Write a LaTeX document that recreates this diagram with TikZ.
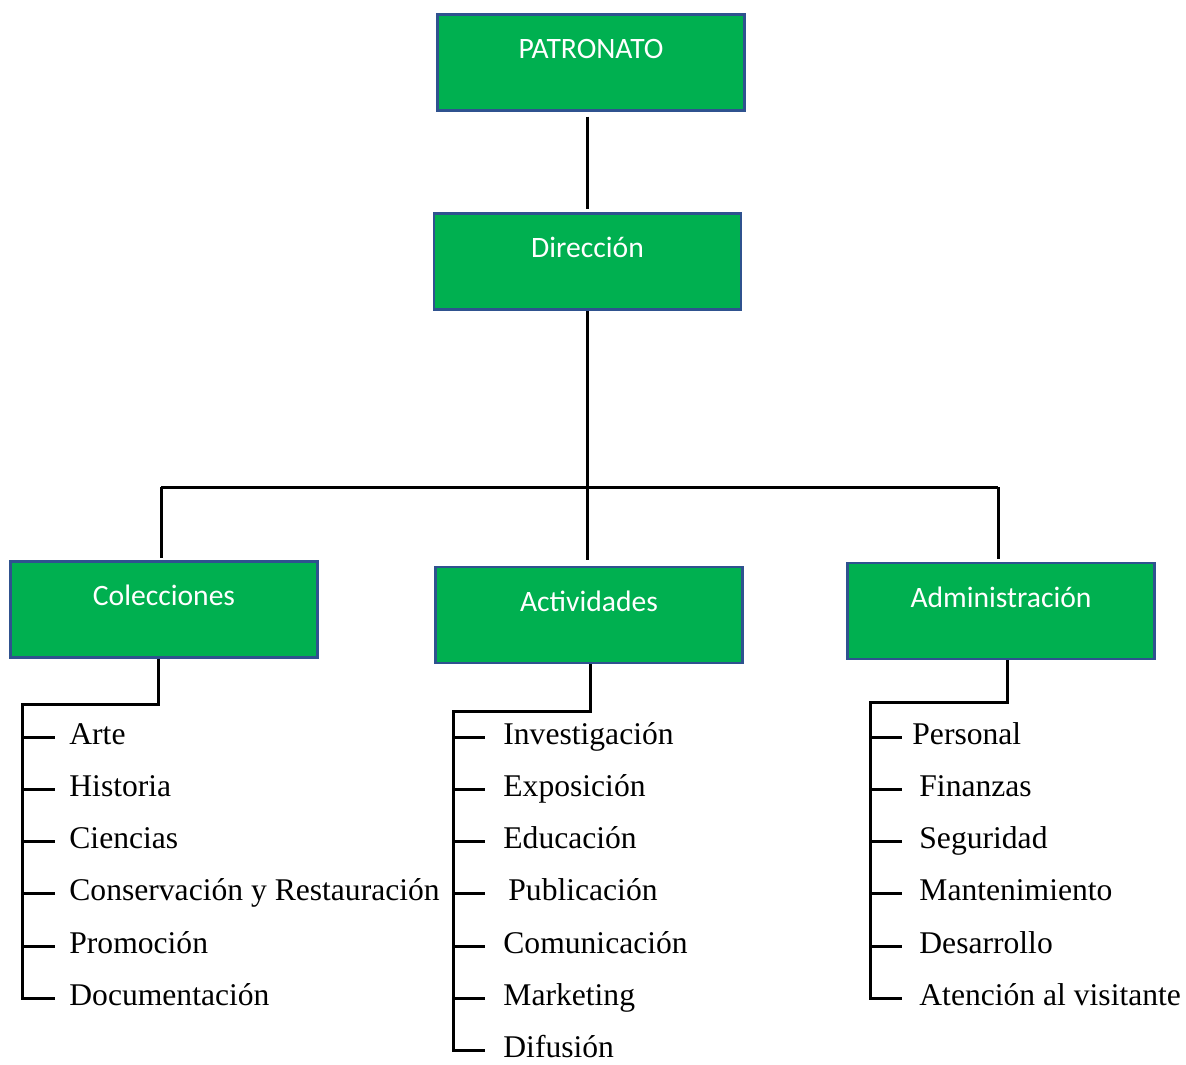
\documentclass[tikz,border=0pt]{standalone}
\usepackage{fontspec}
\setmainfont{Liberation Serif}
\newfontfamily\unitfont{Carlito}
\usetikzlibrary{positioning}
\definecolor{unitgreen}{RGB}{0,176,80}
\definecolor{unitblue}{RGB}{47,82,143}

\begin{document}
\begin{tikzpicture}[x=0.5pt, y=-0.5pt,
  unit/.style={draw=unitblue, line width=1.2pt, fill=unitgreen, text=white,
    minimum width=153.5pt, minimum height=48pt, inner sep=0pt,
    font=\unitfont\fontsize{14.8}{17}\selectfont, text height=0.75em, text depth=1.13em},
  item/.style={anchor=west, inner ysep=0pt,
    font=\fontsize{15.8}{19}\selectfont, text height=0.9em, text depth=0.2em},
  link/.style={line width=1.5pt}]
  \useasboundingbox (0,0) rectangle (1186,1064);

  % units
  \node[unit] (pat) at (591,62.5) {PATRONATO};
  \node[unit] (dir) at (587.5,261.5) {Dirección};
  \node[unit] (col) at (164,609.5) {Colecciones};
  \node[unit] (act) at (589,615) {Actividades};
  \node[unit] (adm) at (1001,611) {Administración};

  \coordinate (busL) at (161,487);
  \coordinate (busR) at (998,487);

  \draw[link, shorten <=2.5pt, shorten >=1.5pt] (pat.south -| dir.north) -- (dir.north);
  \draw[link, shorten >=3pt] (dir.south) -- (dir.south |- act.north);
  \draw[link] (busL) -- (busR);
  \draw[link, shorten >=1pt] (busL) -- (busL |- col.north);
  \draw[link, shorten >=1.5pt] (busR) -- (busR |- adm.north);

  % Colecciones
  \coordinate (colK) at (158,704);
  \coordinate (colS) at (22,704);
  \foreach \t [count=\i] in {Arte,Historia,Ciencias,Conservación y Restauración,Promoción,Documentación}
    \node[item, inner xsep=7pt] (c\i) at (55,{737+52.3*(\i-1)}) {\t};
  \draw[link] (colK |- col.south) -- (colK) -- (colS) -- (colS |- c6.west) -- (c6.west);
  \foreach \i in {1,...,5}
    \draw[link] (colS |- c\i.west) -- (c\i.west);

  % Actividades
  \coordinate (actK) at (590,711);
  \coordinate (actS) at (453,711);
  \foreach \t [count=\i] in {Investigación,Exposición,Educación,\hspace{2.5pt}Publicación,Comunicación,Marketing,Difusión}
    \node[item, inner xsep=9pt] (a\i) at (485,{737+52.3*(\i-1)}) {\t};
  \draw[link] (actK |- act.south) -- (actK) -- (actS) -- (actS |- a7.west) -- (a7.west);
  \foreach \i in {1,...,6}
    \draw[link] (actS |- a\i.west) -- (a\i.west);

  % Administración
  \coordinate (admK) at (1007,702);
  \coordinate (admS) at (870,702);
  \foreach \t [count=\i] in {\hspace{-3.5pt}Personal,Finanzas,Seguridad,Mantenimiento,Desarrollo,Atención al visitante}
    \node[item, inner xsep=8.5pt] (d\i) at (902,{737+52.3*(\i-1)}) {\t};
  \draw[link] (admK |- adm.south) -- (admK) -- (admS) -- (admS |- d6.west) -- (d6.west);
  \foreach \i in {1,...,5}
    \draw[link] (admS |- d\i.west) -- (d\i.west);
\end{tikzpicture}
\end{document}
